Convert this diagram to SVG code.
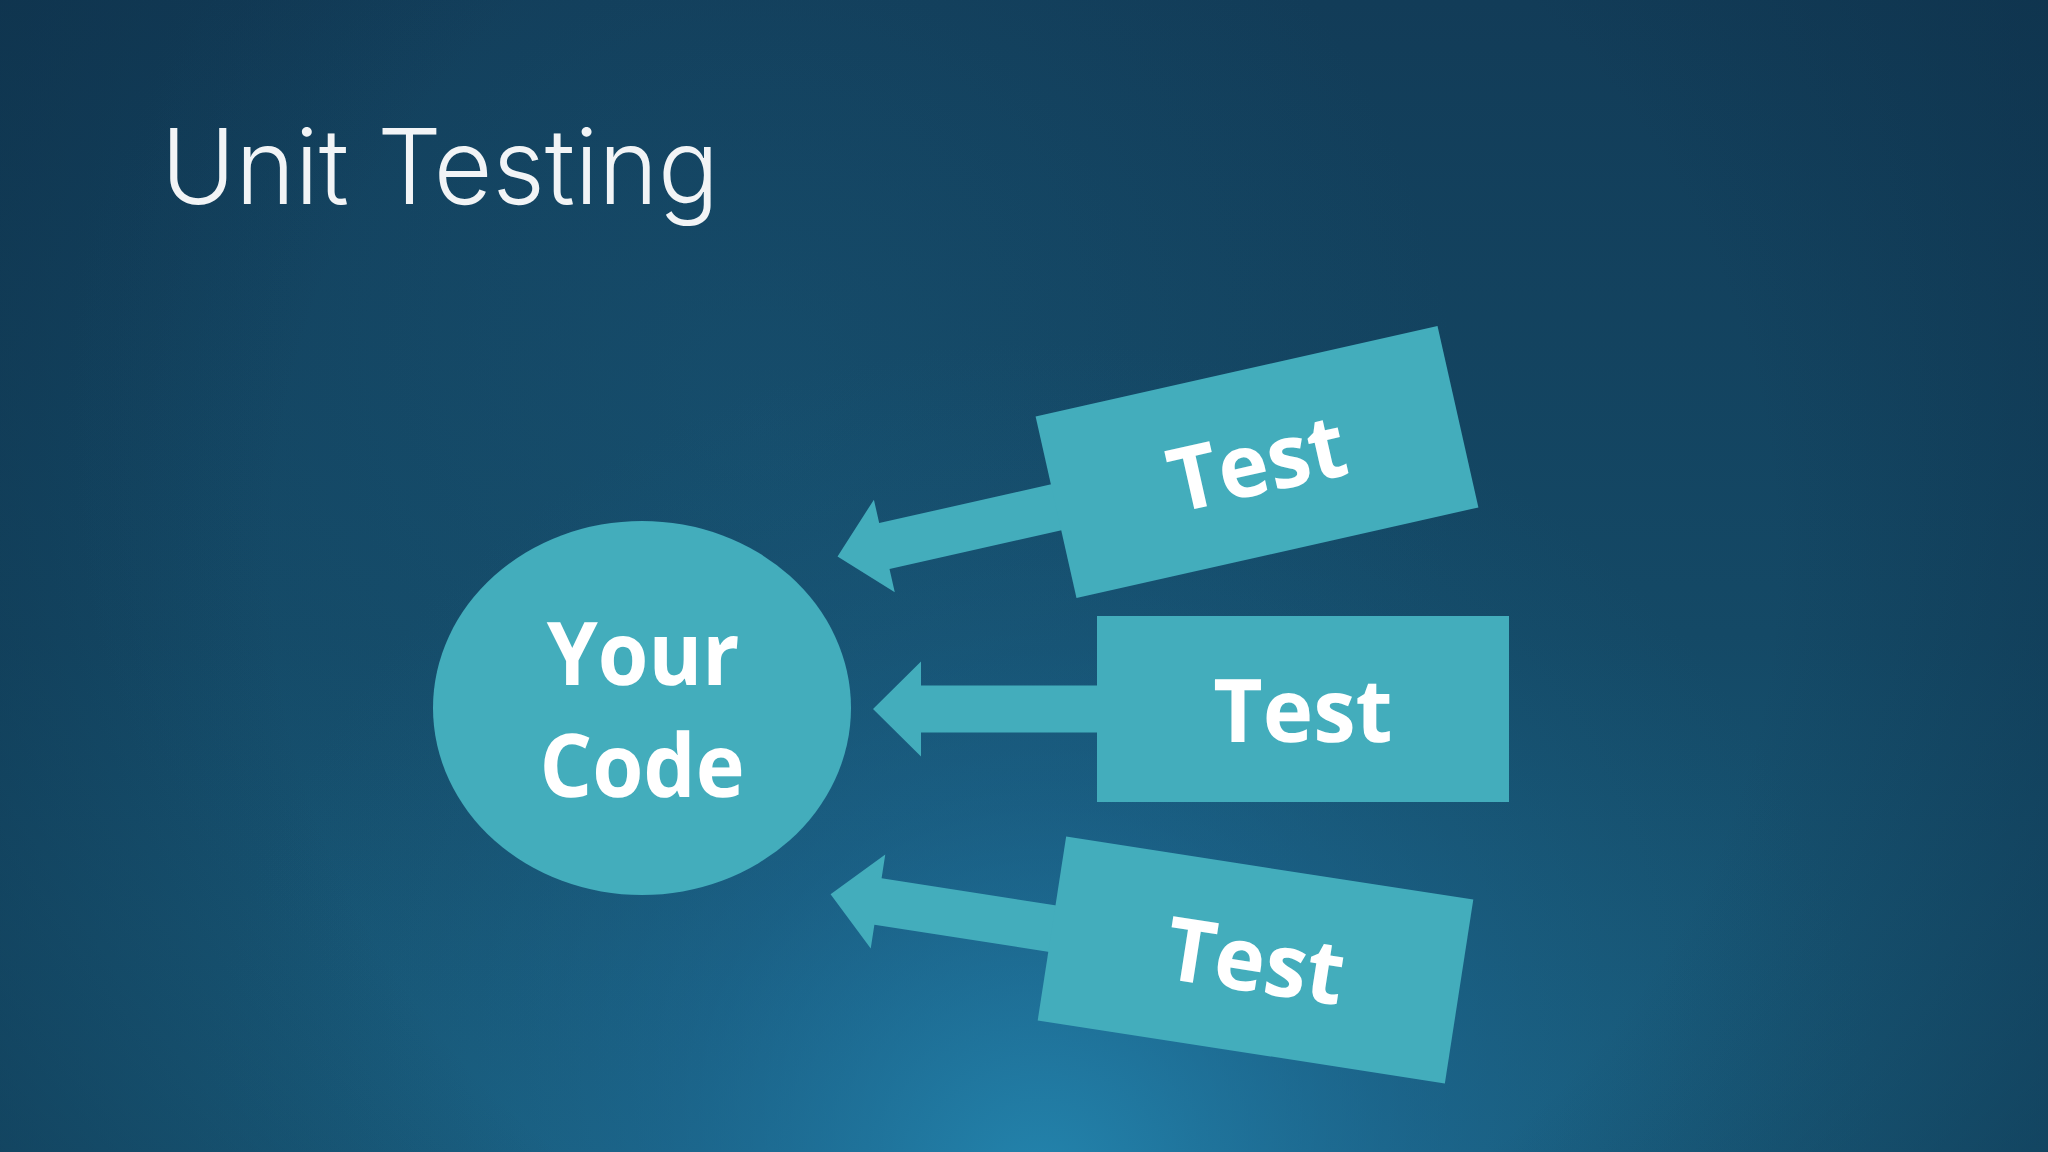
<svg xmlns="http://www.w3.org/2000/svg" width="2048" height="1152" viewBox="0 0 2048 1152">
  <defs>
    <linearGradient id="bgLin" x1="0" y1="0" x2="0" y2="1">
      <stop offset="0" stop-color="#123c58"/>
      <stop offset="0.55" stop-color="#144966"/>
      <stop offset="1" stop-color="#195c7c"/>
    </linearGradient>
    <radialGradient id="bgGlow" cx="1040" cy="1190" r="850" gradientUnits="userSpaceOnUse">
      <stop offset="0" stop-color="#2487b0" stop-opacity="0.95"/>
      <stop offset="0.45" stop-color="#1f72a0" stop-opacity="0.4"/>
      <stop offset="1" stop-color="#1a5f80" stop-opacity="0"/>
    </radialGradient>
    <radialGradient id="bgCenter" cx="760" cy="430" r="700" gradientUnits="userSpaceOnUse">
      <stop offset="0" stop-color="#1a5a7c" stop-opacity="0.4"/>
      <stop offset="1" stop-color="#1a5a7c" stop-opacity="0"/>
    </radialGradient>
    <radialGradient id="bgEdge" cx="1024" cy="560" r="1250" gradientUnits="userSpaceOnUse">
      <stop offset="0.6" stop-color="#0c2c44" stop-opacity="0"/>
      <stop offset="1" stop-color="#0c2c44" stop-opacity="0.55"/>
    </radialGradient>
  </defs>
  <style>
    .shape { fill: #43adbc; }
    .lbl { font-family: "Open Sans", "Noto Sans", "Liberation Sans", sans-serif; font-weight: 700; font-size: 88px; fill: #ffffff; text-anchor: middle; text-rendering: geometricPrecision; }
    .title { font-family: Inter, Lato, "Liberation Sans", sans-serif; font-weight: 350; font-size: 104px; fill: #f2f4f6; }
  </style>

  <rect width="2048" height="1152" fill="url(#bgLin)"/>
  <rect width="2048" height="1152" fill="url(#bgCenter)"/>
  <rect width="2048" height="1152" fill="url(#bgGlow)"/>
  <rect width="2048" height="1152" fill="url(#bgEdge)"/>

  <text class="title" x="161" y="204" textLength="558" lengthAdjust="spacingAndGlyphs">Unit Testing</text>

  <g id="connectors">
    <path class="shape" transform="translate(1257,462) rotate(-12.7)" d="M -200 -23.5 L -382 -23.5 L -382 -47.5 L -430 0 L -382 47.5 L -382 23.5 L -200 23.5 Z"/>
    <path class="shape" transform="translate(1303,709)" d="M -200 -23.5 L -382 -23.5 L -382 -47.5 L -430 0 L -382 47.5 L -382 23.5 L -200 23.5 Z"/>
    <path class="shape" transform="translate(1255.5,960) rotate(8.8)" d="M -200 -23.5 L -382 -23.5 L -382 -47.5 L -430 0 L -382 47.5 L -382 23.5 L -200 23.5 Z"/>
  </g>

  <g id="your-code">
    <ellipse class="shape" cx="642" cy="708" rx="209" ry="187"/>
    <text class="lbl" transform="translate(643,685) scale(0.93,1)" x="0" y="0">Your</text>
    <text class="lbl" transform="translate(642,797) scale(0.94,1)" x="0" y="0">Code</text>
  </g>

  <g id="test-top" transform="translate(1257,462) rotate(-12.7)">
    <rect class="shape" x="-206" y="-93" width="412" height="186"/>
    <text class="lbl" transform="translate(0,32) scale(0.97,1)" x="0" y="0">Test</text>
  </g>

  <g id="test-middle" transform="translate(1303,709)">
    <rect class="shape" x="-206" y="-93" width="412" height="186"/>
    <text class="lbl" transform="translate(0,33) scale(0.97,1)" x="0" y="0">Test</text>
  </g>

  <g id="test-bottom" transform="translate(1255.5,960) rotate(8.8)">
    <rect class="shape" x="-206" y="-93" width="412" height="186"/>
    <text class="lbl" transform="translate(0,32) scale(0.97,1)" x="0" y="0">Test</text>
  </g>
</svg>
